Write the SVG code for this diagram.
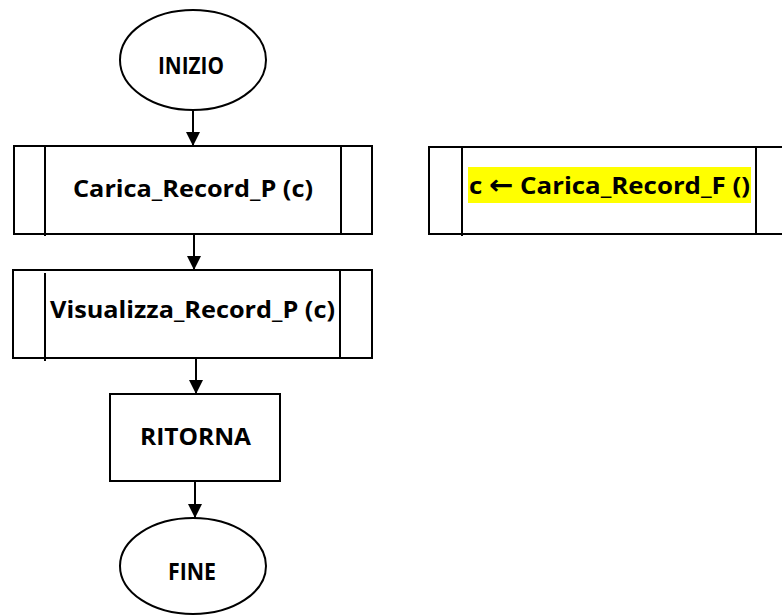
<svg xmlns="http://www.w3.org/2000/svg" width="782" height="615" viewBox="0 0 782 615">
<style>
.s{fill:#fff;stroke:#000;stroke-width:2}
.l{stroke:#000;stroke-width:2;fill:none}
.t{font-family:"Open Sans","Liberation Sans",Arial,sans-serif;font-weight:bold;font-size:24px;fill:#000;text-anchor:middle}
</style>
<defs>
<marker id="ah" markerWidth="16" markerHeight="14" refX="14" refY="7" orient="auto" markerUnits="userSpaceOnUse">
<path d="M0,0 L14,7 L0,14 Z" fill="#000"/>
</marker>
</defs>
<rect width="782" height="615" fill="#fff"/>
<g id="connectors">
<line class="l" x1="193" y1="110" x2="193" y2="146" marker-end="url(#ah)"/>
<line class="l" x1="194" y1="234" x2="194" y2="270" marker-end="url(#ah)"/>
<line class="l" x1="196" y1="358" x2="196" y2="394" marker-end="url(#ah)"/>
<line class="l" x1="195" y1="481" x2="195" y2="518" marker-end="url(#ah)"/>
</g>
<g id="inizio">
<ellipse class="s" cx="193" cy="60" rx="73" ry="50"/>
<text class="t" x="191" y="74" textLength="66" lengthAdjust="spacingAndGlyphs">INIZIO</text>
</g>
<g id="carica_p">
<rect class="s" x="14" y="146" width="358" height="88"/>
<line class="l" x1="45" y1="146" x2="45" y2="236"/>
<line class="l" x1="341" y1="146" x2="341" y2="234"/>
<text class="t" x="193" y="197" textLength="240" lengthAdjust="spacingAndGlyphs">Carica_Record_P (c)</text>
</g>
<g id="visualizza_p">
<rect class="s" x="13" y="270" width="359" height="88"/>
<line class="l" x1="45" y1="273" x2="45" y2="361"/>
<line class="l" x1="340" y1="270" x2="340" y2="358"/>
<text class="t" x="192.5" y="318" textLength="285" lengthAdjust="spacingAndGlyphs">Visualizza_Record_P (c)</text>
</g>
<g id="ritorna">
<rect class="s" x="110" y="394" width="170" height="87"/>
<text class="t" x="195.5" y="445" textLength="111" lengthAdjust="spacingAndGlyphs">RITORNA</text>
</g>
<g id="fine">
<ellipse class="s" cx="193" cy="566" rx="73" ry="48"/>
<text class="t" x="192" y="580" textLength="48" lengthAdjust="spacingAndGlyphs">FINE</text>
</g>
<g id="carica_f">
<rect class="s" x="429" y="147" width="370" height="87"/>
<line class="l" x1="462" y1="147" x2="462" y2="236"/>
<line class="l" x1="756" y1="147" x2="756" y2="234"/>
<rect x="468" y="167" width="283" height="36" fill="#ffff00"/>
<text class="t" x="609.5" y="194" textLength="281" lengthAdjust="spacingAndGlyphs">c <tspan font-family="DejaVu Sans" font-size="27">←</tspan> Carica_Record_F ()</text>
</g>
</svg>
